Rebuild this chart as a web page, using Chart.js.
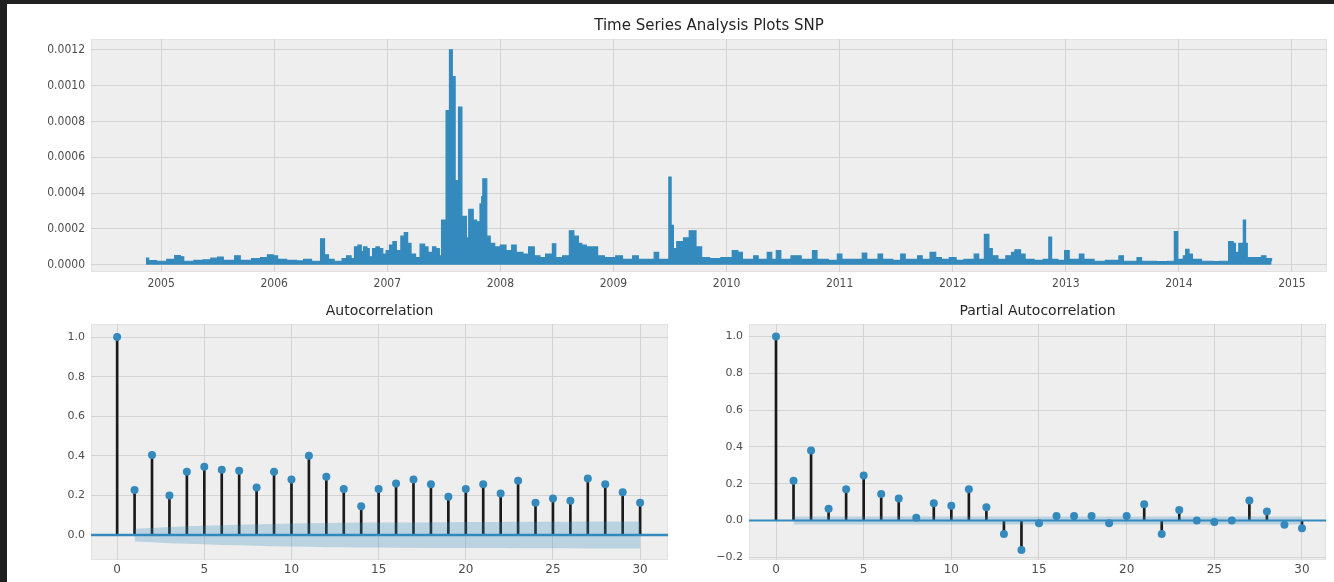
<!DOCTYPE html>
<html><head><meta charset="utf-8">
<script src="https://cdn.jsdelivr.net/npm/chart.js@4.4.1/dist/chart.umd.min.js"></script>
<style>
html,body{margin:0;padding:0;background:#fff;width:1334px;height:582px;overflow:hidden;position:relative}
canvas{position:absolute;display:block}
#bt{position:absolute;left:0;top:0;width:1334px;height:4px;background:#1f1f1f;z-index:5}
#bl{position:absolute;left:0;top:0;width:7px;height:582px;background:#1f1f1f;z-index:5}
</style></head><body>
<div id="bt"></div><div id="bl"></div>
<canvas id="ts" width="1327" height="290" style="left:7px;top:4px"></canvas>
<canvas id="acf" width="681" height="292" style="left:7px;top:290px"></canvas>
<canvas id="pacf" width="646" height="292" style="left:688px;top:290px"></canvas>
<script>
// ---------- data ----------
const mainTitle = 'Time Series Analysis Plots SNP';
const acfTitle = 'Autocorrelation';
const pacfTitle = 'Partial Autocorrelation';

const snpYears = [
2004.865,2004.89,2004.96,2005.05,2005.12,2005.17,2005.20,2005.29,2005.37,2005.44,
2005.50,2005.55,2005.65,2005.70,2005.80,2005.88,2005.94,2005.99,2006.03,2006.11,
2006.20,2006.26,2006.33,2006.41,2006.445,2006.48,2006.53,2006.60,2006.64,2006.68,
2006.71,2006.74,2006.77,2006.79,2006.82,2006.84,2006.87,2006.90,2006.93,2006.96,
2006.99,2007.02,2007.05,2007.08,2007.12,2007.15,2007.18,2007.21,2007.25,2007.29,
2007.33,2007.36,2007.40,2007.43,2007.46,2007.48,2007.52,2007.55,2007.575,2007.60,
2007.63,2007.66,2007.70,2007.72,2007.76,2007.79,2007.82,2007.835,2007.845,2007.88,
2007.91,2007.95,2008.00,2008.05,2008.10,2008.14,2008.20,2008.25,2008.30,2008.35,
2008.40,2008.46,2008.49,2008.55,2008.61,2008.65,2008.69,2008.72,2008.76,2008.83,
2008.86,2008.92,2009.02,2009.08,2009.17,2009.22,2009.36,2009.40,2009.49,2009.51,
2009.53,2009.56,2009.62,2009.67,2009.73,2009.78,2009.85,2009.95,2010.05,2010.10,
2010.14,2010.24,2010.28,2010.36,2010.40,2010.44,2010.48,2010.57,2010.62,2010.66,
2010.76,2010.80,2010.90,2010.98,2011.02,2011.10,2011.20,2011.24,2011.34,2011.38,
2011.47,2011.54,2011.58,2011.69,2011.73,2011.80,2011.85,2011.90,2011.97,2012.03,
2012.10,2012.19,2012.23,2012.28,2012.32,2012.35,2012.40,2012.47,2012.52,2012.55,
2012.60,2012.64,2012.72,2012.80,2012.85,2012.875,2012.93,2012.99,2013.03,2013.12,
2013.16,2013.25,2013.35,2013.47,2013.51,2013.63,2013.67,2013.80,2013.90,2013.96,
2013.99,2014.04,2014.06,2014.09,2014.12,2014.20,2014.30,2014.36,2014.44,2014.48,
2014.50,2014.53,2014.57,2014.59,2014.605,2014.66,2014.73,2014.77,2014.82
];
const snpValues = [
0.000037,0.000024,0.00002,0.00003,0.000052,0.000045,0.00002,0.000025,0.000028,0.000037,
0.000043,0.000025,0.00005,0.000025,0.000035,0.00004,0.000056,0.00005,0.00003,0.000025,
0.000022,0.00003,0.00002,0.000145,0.000056,0.00003,0.00002,0.000035,0.00005,0.000035,
0.0001,0.00011,0.000074,0.0001,0.00009,0.000045,0.00009,0.0001,0.00009,0.00006,
0.00008,0.00011,0.00013,0.00008,0.00016,0.00018,0.00012,0.00006,0.00004,0.000115,
0.0001,0.00007,0.0001,0.00009,0.00005,0.00025,0.00086,0.0012,0.00105,0.00047,
0.00088,0.00027,0.00015,0.00031,0.00025,0.00024,0.00034,0.00038,0.00048,0.00016,
0.00012,0.0001,0.00011,0.00008,0.00011,0.00007,0.00006,0.0001,0.00005,0.00004,
0.00006,0.000117,0.00004,0.00005,0.00019,0.00016,0.00012,0.00011,0.0001,0.0001,
0.00005,0.00004,0.00005,0.00003,0.00005,0.00003,0.00007,0.00003,0.00049,0.00022,
0.00009,0.00013,0.00015,0.00019,0.0001,0.00004,0.000035,0.00004,0.00008,0.00007,
0.00003,0.00005,0.00003,0.00007,0.00003,0.00008,0.00003,0.00005,0.00005,0.00003,
0.00008,0.00003,0.000025,0.00006,0.00003,0.00003,0.000065,0.00003,0.00006,0.00003,
0.000025,0.00006,0.00003,0.00005,0.00003,0.00007,0.00004,0.00003,0.00004,0.000025,
0.00003,0.00006,0.00003,0.00017,0.00009,0.00005,0.00003,0.00005,0.00007,0.000084,
0.00006,0.00003,0.000025,0.00003,0.000155,0.00003,0.000025,0.00008,0.00003,0.00006,
0.00003,0.00002,0.000025,0.00005,0.00002,0.00004,0.00002,0.000018,0.00002,0.000185,
0.00003,0.00005,0.000087,0.00006,0.00003,0.00002,0.000018,0.00002,0.00013,0.00012,
0.00007,0.00012,0.00025,0.00012,0.00004,0.00004,0.00005,0.000035,0.00002
];
const yearTicks = [2005,2006,2007,2008,2009,2010,2011,2012,2013,2014,2015];
const yearTickLabels = ['2005','2006','2007','2008','2009','2010','2011','2012','2013','2014','2015'];
const snpYTicks = [0,0.0002,0.0004,0.0006,0.0008,0.001,0.0012];
const snpYTickLabels = ['0.0000','0.0002','0.0004','0.0006','0.0008','0.0010','0.0012'];

const lags = [0,1,2,3,4,5,6,7,8,9,10,11,12,13,14,15,16,17,18,19,20,21,22,23,24,25,26,27,28,29,30];
const acfValues = [1.0,0.227,0.404,0.20,0.32,0.345,0.33,0.325,0.24,0.32,0.28,0.40,0.295,0.232,0.146,
  0.232,0.26,0.28,0.256,0.194,0.232,0.256,0.21,0.274,0.163,0.185,0.173,0.286,0.256,0.216,0.163];
const confLags = [1,2,3,4,5,6,7,8,9,10,11,12,13,14,15,16,17,18,19,20,21,22,23,24,25,26,27,28,29,30];
const acfConfUpper = [0.032,0.036,0.041,0.044,0.047,0.050,0.052,0.054,0.056,0.058,0.059,0.061,0.062,0.063,0.063,
  0.064,0.064,0.065,0.065,0.066,0.066,0.066,0.067,0.067,0.067,0.067,0.068,0.068,0.068,0.068];
const acfConfLower = [-0.032,-0.036,-0.041,-0.044,-0.047,-0.050,-0.052,-0.054,-0.056,-0.058,-0.059,-0.061,-0.062,-0.063,-0.063,
  -0.064,-0.064,-0.065,-0.065,-0.066,-0.066,-0.066,-0.067,-0.067,-0.067,-0.067,-0.068,-0.068,-0.068,-0.068];
const pacfValues = [1.0,0.216,0.38,0.064,0.17,0.245,0.144,0.12,0.015,0.093,0.08,0.17,0.072,-0.073,-0.16,
  -0.015,0.024,0.024,0.024,-0.015,0.024,0.088,-0.073,0.057,0.0,-0.008,0.0,0.108,0.048,-0.024,-0.042];
const pacfConfUpper = [0.022,0.022,0.022,0.022,0.022,0.022,0.022,0.022,0.022,0.022,0.022,0.022,0.022,0.022,0.022,
  0.022,0.022,0.022,0.022,0.022,0.022,0.022,0.022,0.022,0.022,0.022,0.022,0.022,0.022,0.022];
const pacfConfLower = [-0.022,-0.022,-0.022,-0.022,-0.022,-0.022,-0.022,-0.022,-0.022,-0.022,-0.022,-0.022,-0.022,-0.022,-0.022,
  -0.022,-0.022,-0.022,-0.022,-0.022,-0.022,-0.022,-0.022,-0.022,-0.022,-0.022,-0.022,-0.022,-0.022,-0.022];
const lagTicks = [0,5,10,15,20,25,30];
const lagTickLabels = ['0','5','10','15','20','25','30'];
const acfYTicks = [0,0.2,0.4,0.6,0.8,1.0];
const acfYTickLabels = ['0.0','0.2','0.4','0.6','0.8','1.0'];
const pacfYTicks = [-0.2,0,0.2,0.4,0.6,0.8,1.0];
const pacfYTickLabels = ['\u22120.2','0.0','0.2','0.4','0.6','0.8','1.0'];

// ---------- styling ----------
const BLUE = '#348ABD';
const BAND = 'rgba(52,138,189,0.27)';
const GRID = '#d3d3d3';
const TICK = '#4d4d4d';
Chart.defaults.animation = false;
Chart.defaults.responsive = false;
Chart.defaults.devicePixelRatio = 1;
Chart.defaults.plugins.legend.display = false;
Chart.defaults.plugins.tooltip.enabled = false;

const panelBg = {
  id: 'panelBg',
  beforeDraw(chart) {
    const {ctx, chartArea: a} = chart;
    ctx.save();
    ctx.fillStyle = '#eeeeee';
    ctx.fillRect(a.left, a.top, a.right - a.left, a.bottom - a.top);
    ctx.strokeStyle = '#e2e2e2';
    ctx.lineWidth = 1;
    ctx.strokeRect(a.left + 0.5, a.top + 0.5, a.right - a.left - 1, a.bottom - a.top - 1);
    ctx.restore();
  }
};
const zeroLine = {
  id: 'zeroLine',
  beforeDatasetDraw(chart, args, opts) {
    if (!opts || args.index !== opts.before) return;
    const {ctx, chartArea: a} = chart;
    const y = chart.scales.y.getPixelForValue(0);
    ctx.save();
    ctx.strokeStyle = BLUE;
    ctx.lineWidth = opts.width;
    ctx.beginPath();
    ctx.moveTo(a.left, y);
    ctx.lineTo(a.right, y);
    ctx.stroke();
    ctx.restore();
  }
};

function tickMapper(values, labels) {
  return (v, i) => labels[i];
}
function fixedTicks(values) {
  return s => { s.ticks = values.map(v => ({value: v})); };
}

// ---------- time series ----------
new Chart(document.getElementById('ts'), {
  type: 'line',
  data: {
    datasets: [{
      data: snpYears.map((x, i) => ({x: x, y: snpValues[i]})),
      borderColor: BLUE,
      backgroundColor: BLUE,
      borderWidth: 1.2,
      pointRadius: 0,
      stepped: 'before',
      fill: 'origin',
      tension: 0
    }]
  },
  options: {
    layout: {padding: {left: 0, right: 7, top: 0, bottom: 0}},
    plugins: {
      title: {
        display: true, text: mainTitle, fullSize: false,
        color: '#262626',
        font: {family: "'DejaVu Sans', sans-serif", size: 15, weight: 'normal', lineHeight: 1.2},
        padding: {top: 13, bottom: 4}
      }
    },
    scales: {
      x: {
        type: 'linear', min: 2004.38, max: 2015.31, bounds: 'data',
        afterBuildTicks: fixedTicks(yearTicks),
        afterFit: s => { s.height = 22; },
        grid: {color: GRID, lineWidth: 1, drawTicks: false},
        border: {display: false},
        ticks: {autoSkip: false, maxRotation: 0, padding: 5, color: TICK,
          font: {family: "'Liberation Sans Narrow','DejaVu Sans Condensed',sans-serif", size: 12},
          callback: tickMapper(yearTicks, yearTickLabels)}
      },
      y: {
        type: 'linear', min: -0.00004, max: 0.00126, bounds: 'data',
        afterBuildTicks: fixedTicks(snpYTicks),
        afterFit: s => { s.width = 84; },
        grid: {color: GRID, lineWidth: 1, drawTicks: false},
        border: {display: false},
        ticks: {autoSkip: false, padding: 6, color: TICK,
          font: {family: "'Liberation Sans Narrow','DejaVu Sans Condensed',sans-serif", size: 12},
          callback: tickMapper(snpYTicks, snpYTickLabels)}
      }
    }
  },
  plugins: [panelBg]
});

// ---------- correlation panels ----------
function corrChart(id, title, values, upper, lower, xmin, xmax, ymin, ymax, yTicks, yLabels, yWidth, rightPad, zeroW) {
  new Chart(document.getElementById(id), {
    type: 'bar',
    data: {
      datasets: [
        { type: 'bar', order: 3,
          data: lags.map((l, i) => ({x: l, y: [0, values[i]]})),
          backgroundColor: '#1a1a1a', borderWidth: 0, barThickness: 2, grouped: false },
        { type: 'line', order: 2,
          data: lags.map((l, i) => ({x: l, y: values[i]})),
          showLine: false, pointRadius: 4, pointBackgroundColor: BLUE, pointBorderWidth: 0, borderColor: BLUE },
        { type: 'line', order: 1,
          data: confLags.map((l, i) => ({x: l, y: upper[i]})),
          borderWidth: 0, pointRadius: 0, fill: '+1', backgroundColor: BAND, tension: 0 },
        { type: 'line', order: 1,
          data: confLags.map((l, i) => ({x: l, y: lower[i]})),
          borderWidth: 0, pointRadius: 0, fill: false, tension: 0 }
      ]
    },
    options: {
      layout: {padding: {left: 0, right: rightPad, top: 0, bottom: 0}},
      plugins: {
        title: {
          display: true, text: title, fullSize: false, color: '#262626',
          font: {family: "'DejaVu Sans', sans-serif", size: 14, weight: 'normal', lineHeight: 1.2},
          padding: {top: 12.6, bottom: 4.6}
        },
        zeroLine: {before: 1, width: zeroW}
      },
      scales: {
        x: {
          type: 'linear', min: xmin, max: xmax, bounds: 'data', offset: false,
          afterBuildTicks: fixedTicks(lagTicks),
          afterFit: s => { s.height = 22; },
          grid: {color: GRID, lineWidth: 1, drawTicks: false, offset: false},
          border: {display: false},
          ticks: {autoSkip: false, maxRotation: 0, padding: 3, color: TICK,
            font: {family: "'DejaVu Sans',sans-serif", size: 12},
            callback: tickMapper(lagTicks, lagTickLabels)}
        },
        y: {
          type: 'linear', min: ymin, max: ymax, bounds: 'data',
          afterBuildTicks: fixedTicks(yTicks),
          afterFit: s => { s.width = yWidth; },
          grid: {color: GRID, lineWidth: 1, drawTicks: false},
          border: {display: false},
          ticks: {autoSkip: false, padding: 6, color: TICK,
            font: {family: "'DejaVu Sans',sans-serif", size: 11},
            callback: tickMapper(yTicks, yLabels)}
        }
      }
    },
    plugins: [panelBg, zeroLine]
  });
}

corrChart('acf', acfTitle, acfValues, acfConfUpper, acfConfLower,
  -1.5, 31.6, -0.126, 1.066, acfYTicks, acfYTickLabels, 84, 20, 2.5);
corrChart('pacf', pacfTitle, pacfValues, pacfConfUpper, pacfConfLower,
  -1.54, 31.37, -0.215, 1.068, pacfYTicks, pacfYTickLabels, 61, 8, 2);
</script>
</body></html>
